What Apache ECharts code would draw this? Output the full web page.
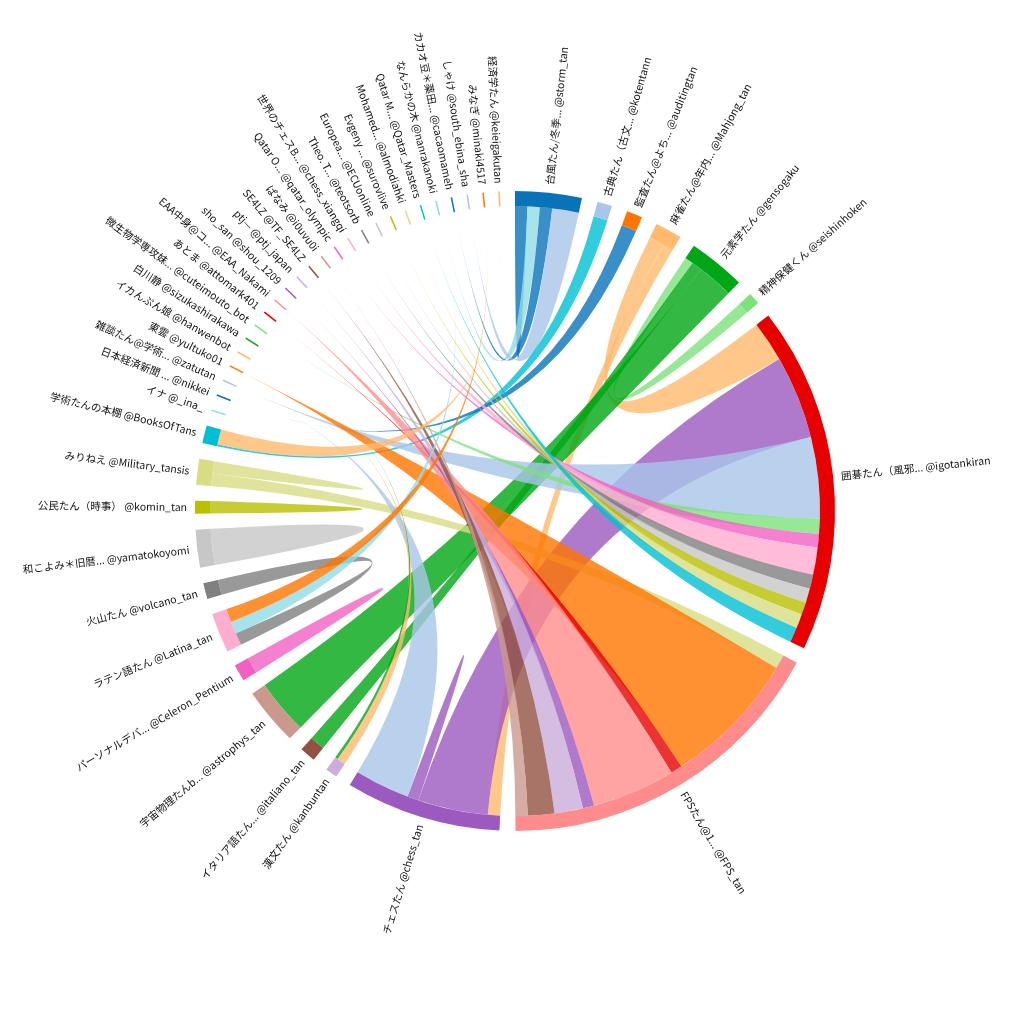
<!DOCTYPE html>
<html>
<head>
<meta charset="utf-8">
<script src="https://cdn.jsdelivr.net/npm/echarts@6/dist/echarts.min.js"></script>
<style>
  html, body { margin: 0; background: #fff; }
  #chart { width: 1024px; height: 1024px; }
</style>
</head>
<body>
<div id="chart"></div>
<script>
// groups, clockwise from 12 o'clock
var names = [
    '台風たん/冬季... @storm_tan', '古典たん（古文... @kotentann', '監査たん@よち... @auditingtan',
    '麻雀たん@年内... @Mahjong_tan', '元素学たん @gensogaku', '精神保健くん @seishinhoken',
    '囲碁たん（風邪... @igotankiran', 'FPSたん@1... @FPS_tan', 'チェスたん @chess_tan',
    '漢文たん @kanbuntan', 'イタリア語たん... @italiano_tan', '宇宙物理たんb... @astrophys_tan',
    'パーソナルデバ... @Celeron_Pentium', 'ラテン語たん @Latina_tan', '火山たん @volcano_tan',
    '和こよみ＊旧暦... @yamatokoyomi', '公民たん（時事） @komin_tan', 'みりねえ @Military_tansis',
    '学術たんの本棚 @BooksOfTans', 'イナ @_ina_', '日本経済新聞 ... @nikkei',
    '雑談たん@学術... @zatutan', '東雲 @yultuko01', 'イカんぷん娘 @hanwenbot',
    '白川静 @sizukashirakawa', '微生物学専攻妹... @cuteimouto_bot', 'あとま @attomark401',
    'EAA中身@コ... @EAA_Nakami', 'sho_san @shou_1209', 'ptj— @ptj_japan',
    'SE4LZ @TF_SE4LZ', 'ぱなみ @i0uvu0i', 'Qatar O... @qatar_olympic',
    '世界のチェスB... @chess_xiangqi', 'Theo. T... @teotsorb', 'Europea... @ECUonline',
    'Evgeny ... @surovlive', 'Mohamed... @almodiahki', 'Qatar M... @Qatar_Masters',
    'なんらかの木 @nanrakanoki', 'カカオ豆＊薬田... @cacaomameh', 'しゃけ @south_ebina_sha',
    'みなぎ @minaki4517', '経済学たん @keieigakutan'
];

// [from, to, width at from, width at to]; ribbon takes the colour of "to"
var links = [
    [0, 0, 13, 13], [0, 39, 13, 0], [0, 40, 13, 0], [0, 41, 28, 0],
    [1, 18, 15, 2],
    [2, 20, 16, 0],
    [6, 3, 43, 16], [8, 3, 13, 11],
    [4, 5, 9, 12], [10, 4, 16, 11], [11, 4, 58, 38],
    [6, 8, 88, 74], [6, 21, 86, 0], [6, 25, 16, 0], [6, 32, 14, 0], [6, 33, 29, 0],
    [6, 34, 15, 0], [6, 35, 15, 0], [6, 36, 13, 0], [6, 37, 15, 0], [6, 38, 16, 0],
    [7, 17, 15, 13], [7, 22, 144, 0], [7, 26, 12, 0], [7, 27, 88, 0], [7, 28, 12, 0],
    [7, 29, 30, 0], [7, 30, 28, 0], [7, 31, 13, 0],
    [8, 8, 12, 12], [8, 21, 58, 0],
    [9, 23, 9, 0], [9, 24, 3, 0],
    [12, 12, 17, 17],
    [13, 14, 13, 16], [13, 39, 13, 0], [13, 42, 14, 0],
    [15, 15, 38, 38], [16, 16, 13, 13], [17, 17, 13, 13],
    [18, 43, 16, 0]
];

var palette = ['#0973ba', '#a9c6ea', '#ff7500', '#ffba6d', '#00a615', '#7ce27c', '#e60000',
    '#ff8c8c', '#9c59bf', '#cbacda', '#925142', '#ca988d', '#f260c4', '#ffacd1', '#808080',
    '#c7c7c7', '#babf00', '#d8dc82', '#00bfd5', '#90dce5'];

var CX = 515, CY = 511, R_IN = 305, R_OUT = 320, R_LABEL = 328, PAD = 0.05;

function pt(r, a) {
    return [CX + r * Math.sin(a), CY - r * Math.cos(a)];
}

// chord layout like d3.chord: subgroups ordered by the other group's index
var groups = [], ends = links.map(function () { return [null, null]; });
(function () {
    var n = names.length, sub = names.map(function () { return []; }), total = 0;
    links.forEach(function (l, k) {
        sub[l[0]].push({ other: l[1], value: l[2], link: k, end: 0 });
        total += l[2];
        if (l[0] !== l[1]) {
            sub[l[1]].push({ other: l[0], value: l[3], link: k, end: 1 });
            total += l[3];
        }
    });
    var unit = (2 * Math.PI - PAD * n) / total, x = 0;
    for (var i = 0; i < n; i++) {
        var x0 = x;
        sub[i].sort(function (a, b) { return a.other - b.other; });
        sub[i].forEach(function (d) {
            var a0 = x;
            x += d.value * unit;
            ends[d.link][d.end] = [a0, x];
            if (links[d.link][0] === links[d.link][1]) ends[d.link][1] = [a0, x];
        });
        groups.push({ start: x0, end: x });
        x += PAD;
    }
})();

function arcTo(r, a0, a1) {
    var p = pt(r, a1);
    return ' A ' + r + ' ' + r + ' 0 ' + (a1 - a0 > Math.PI ? 1 : 0) + ' 1 ' + p[0] + ' ' + p[1];
}

function ribbonPath(k) {
    var s = ends[k][0], t = ends[k][1], p = pt(R_IN, s[0]);
    var d = 'M ' + p[0] + ' ' + p[1];
    if (s[1] - s[0] > 1e-6) d += arcTo(R_IN, s[0], s[1]);
    if (s[0] !== t[0] || s[1] !== t[1]) {
        var q = pt(R_IN, t[0]);
        d += ' Q ' + CX + ' ' + CY + ' ' + q[0] + ' ' + q[1];
        if (t[1] - t[0] > 1e-6) d += arcTo(R_IN, t[0], t[1]);
    }
    d += ' Q ' + CX + ' ' + CY + ' ' + p[0] + ' ' + p[1] + ' Z';
    return d;
}

// draw order as in d3: by lower group index, then higher
var ribbonOrder = links.map(function (l, k) { return k; }).sort(function (a, b) {
    var la = links[a], lb = links[b];
    var ma = Math.min(la[0], la[1]), mb = Math.min(lb[0], lb[1]);
    if (ma !== mb) return ma - mb;
    return Math.max(la[0], la[1]) - Math.max(lb[0], lb[1]);
});

var chart = echarts.init(document.getElementById('chart'));
chart.setOption({
    animation: false,
    series: [
        {
            type: 'custom',
            coordinateSystem: 'none',
            silent: true,
            data: ribbonOrder.map(function (k) { return [k]; }),
            renderItem: function (params, api) {
                var k = api.value(0);
                return {
                    type: 'path',
                    shape: { pathData: ribbonPath(k) },
                    style: { fill: palette[links[k][1] % 20], opacity: 0.8 }
                };
            }
        },
        {
            type: 'custom',
            coordinateSystem: 'none',
            silent: true,
            data: names.map(function (n, i) { return [i]; }),
            renderItem: function (params, api) {
                var i = api.value(0), g = groups[i], mid = (g.start + g.end) / 2;
                var color = palette[i % 20], children = [];
                if (g.end - g.start > 1e-4) {
                    children.push({
                        type: 'sector',
                        shape: {
                            cx: CX, cy: CY, r0: R_IN, r: R_OUT,
                            startAngle: g.start - Math.PI / 2, endAngle: g.end - Math.PI / 2,
                            clockwise: true
                        },
                        style: { fill: color }
                    });
                } else {
                    var p0 = pt(R_IN, g.start), p1 = pt(R_OUT, g.start);
                    children.push({
                        type: 'line',
                        shape: { x1: p0[0], y1: p0[1], x2: p1[0], y2: p1[1] },
                        style: { stroke: color, lineWidth: 1.5 }
                    });
                }
                var lp = pt(R_LABEL, mid), left = mid > Math.PI;
                children.push({
                    type: 'text',
                    x: lp[0], y: lp[1],
                    rotation: left ? 1.5 * Math.PI - mid : 0.5 * Math.PI - mid,
                    style: {
                        text: names[i], fill: '#111', fontSize: 10.5,
                        fontFamily: '"Noto Sans CJK JP", "Noto Sans", sans-serif',
                        align: left ? 'right' : 'left', verticalAlign: 'middle'
                    }
                });
                return { type: 'group', children: children };
            }
        }
    ]
});
</script>
</body>
</html>
